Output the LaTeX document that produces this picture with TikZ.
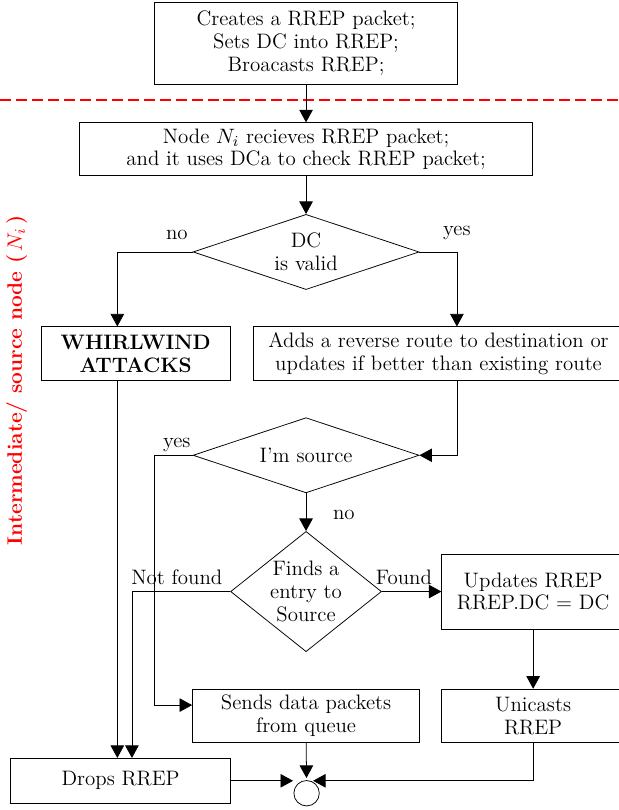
\documentclass[tikz,border=0pt]{standalone}
\usepackage{amsmath}
\usepackage{tikz}
\usetikzlibrary{arrows.meta,calc,shapes.geometric}
\tikzset{box/.style={draw,align=center,inner sep=2pt},
         decision/.style={diamond,draw,align=center,inner sep=0pt,aspect=3,
           minimum width=4.18cm,minimum height=1.39cm},
         arr/.style={-{Triangle[length=6.6pt,width=7.1pt]}},
         lbl/.style={inner sep=0pt}}

\begin{document}
\begin{tikzpicture}[font=\fontsize{11}{12}\selectfont]
  \useasboundingbox (0,0) rectangle (11.43,14.98);
  % boxes
  \node[box,minimum width=5.60cm,minimum height=1.53cm] (create) at (5.66,14.18)
    {Creates a RREP packet;\\ Sets DC into RREP;\\ Broacasts RREP;};
  \node[box,minimum width=8.38cm,minimum height=.98cm] (recv) at (5.66,12.22)
    {Node $N_i$ recieves RREP packet;\\ and it uses DCa to check RREP packet;};
  \node[decision] (dcvalid) at (5.66,10.32) {DC\\ is valid};
  \node[box,minimum width=3.50cm,minimum height=.99cm] (whirl) at (2.51,8.44)
    {\textbf{WHIRLWIND}\\ \textbf{ATTACKS}};
  \node[box,minimum width=6.86cm,minimum height=.99cm] (adds) at (8.11,8.44)
    {Adds a reverse route to destination or\\ updates if better than existing route};
  \node[decision] (issource) at (5.66,6.56) {I'm source};
  \node[decision,aspect=1.2,minimum width=2.79cm,minimum height=2.22cm] (finds)
    at (5.66,4.04) {Finds a\\ entry to\\ Source};
  \node[box,minimum width=3.38cm,minimum height=1.39cm] (updates) at (9.86,4.04)
    {Updates RREP\\ RREP.DC = DC};
  \node[box,minimum width=4.20cm,minimum height=.99cm] (sends) at (5.66,1.74)
    {Sends data packets\\ from queue};
  \node[box,minimum width=3.38cm,minimum height=.99cm] (unic) at (9.86,1.74)
    {Unicasts\\ RREP};
  \node[box,minimum width=4.06cm,minimum height=.83cm] (drops) at (2.23,.54)
    {Drops RREP};
  \node[circle,draw,minimum size=.47cm,inner sep=0pt] (stop) at (5.67,.31) {};
  % zone
  \draw[red,line width=.6pt,dash pattern=on 5.8pt off 2.6pt] (0,13.13) -- (11.43,13.13);
  \node[red,rotate=90] (zone) at (.31,7.95)
    {\textbf{Intermediate/ source node (\,$N_i$\,)}};
  % bend points
  \coordinate (wl) at ($(whirl.south)+(-.34,0)$);
  \coordinate (ar) at ($(adds.south)+(.34,0)$);
  \coordinate (nf) at ($(drops.north)+(.21,0)$);
  % connectors
  \draw[arr] (create) -- (recv);
  \draw[arr] (recv) -- (dcvalid);
  \draw[arr] (dcvalid.west) -| (wl |- whirl.north);
  \draw[arr] (dcvalid.east) -| (ar |- adds.north);
  \draw[arr] (ar) |- (issource.east);
  \draw[arr] (issource.west) -- ++(-.70,0) |- ($(sends.west)+(0,.20)$);
  \draw[arr] (issource) -- (finds);
  \draw[arr] (finds.east) -- (updates.west);
  \draw[arr] (finds.west) -| (nf);
  \draw[arr] (wl) -- (wl |- drops.north);
  \draw[arr] (updates) -- (unic);
  \draw[arr,shorten >=.04cm] (sends) -- (stop);
  \draw[arr,shorten >=.25cm] (drops.east) -- (drops.east -| stop.north);
  \draw[arr,shorten >=.12cm] (unic.south) |- (drops.east -| stop.north);
  % labels
  \node[lbl] (l1) at (3.27,10.63) {no};
  \node[lbl] (l2) at (8.45,10.67) {yes};
  \node[lbl] (l3) at (3.27,6.75) {yes};
  \node[lbl] (l4) at (6.36,5.45) {no};
  \node[lbl] (l5) at (3.27,4.31) {Not found};
  \node[lbl] (l6) at (7.47,4.31) {Found};
\end{tikzpicture}
\end{document}
